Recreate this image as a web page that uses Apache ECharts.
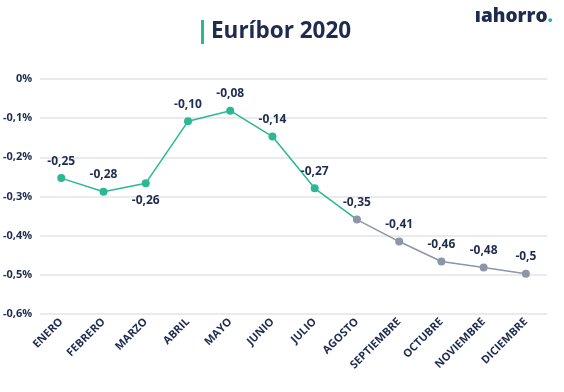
<!DOCTYPE html>
<html><head><meta charset="utf-8">
<script src="https://cdn.jsdelivr.net/npm/echarts@6/dist/echarts.min.js"></script>
<style>html,body{margin:0;padding:0;background:#fff}#c{width:564px;height:392px}</style>
</head><body><div id="c"></div>
<script>
var months = ['ENERO','FEBRERO','MARZO','ABRIL','MAYO','JUNIO','JULIO','AGOSTO','SEPTIEMBRE','OCTUBRE','NOVIEMBRE','DICIEMBRE'];
var values = [-0.253,-0.288,-0.266,-0.108,-0.081,-0.147,-0.279,-0.359,-0.415,-0.466,-0.481,-0.497];
var valueLabels = ['-0,25','-0,28','-0,26','-0,10','-0,08','-0,14','-0,27','-0,35','-0,41','-0,46','-0,48','-0,5'];
var labelBelow = [false,false,true,false,false,false,false,false,false,false,false,false];
var confirmedCount = 7; // Jan–Jul green points; Aug onward gray
var yTicks = {min:-0.6, max:0, interval:0.1};

var GREEN = '#2bb894', GRAY = '#8d95a8', NAVY = '#1e2c4f';
var FONT = 'Open Sans';

function labelFor(i){
  return {show:true, position: labelBelow[i] ? 'bottom' : 'top', distance: 7,
    formatter: valueLabels[i], color: NAVY, fontFamily: FONT, fontWeight: 700, fontSize: 12};
}
var greenData = [], grayData = [];
for (var i = 0; i < months.length; i++) {
  if (i <= confirmedCount) {
    if (i < confirmedCount) greenData.push({value: values[i], label: labelFor(i)});
    else greenData.push({value: values[i], symbol: 'none', label: {show:false}});
  } else greenData.push('-');
  if (i >= confirmedCount) grayData.push({value: values[i], label: labelFor(i)});
  else grayData.push('-');
}

var chart = echarts.init(document.getElementById('c'), null, {renderer:'canvas'});
chart.setOption({
  backgroundColor: '#fff',
  animation: false,
  title: [{
    text: '{bar|}{t|Euríbor 2020}',
    left: 196, top: 15,
    textStyle: {rich: {
      bar: {backgroundColor: GREEN, width: 3, height: 24},
      t: {color: NAVY, fontFamily: FONT, fontWeight: 700, fontSize: 22.5, padding:[0,0,0,7]}
    }}
  },{
    text: '{a|ıahorro}{d|.}',
    right: 6, top: 2,
    textStyle: {rich: {
      a: {color: NAVY, fontFamily: FONT, fontWeight: 800, fontSize: 19},
      d: {color: GREEN, fontFamily: FONT, fontWeight: 800, fontSize: 19}
    }}
  }],
  grid: {left: 37, right: 17, top: 79, bottom: 78},
  xAxis: {
    type: 'category', data: months, boundaryGap: true,
    axisLine: {show: false}, axisTick: {show: false},
    axisLabel: {rotate: 45, interval: 0, margin: 6, color: NAVY, fontFamily: FONT, fontWeight: 700, fontSize: 11}
  },
  yAxis: {
    type: 'value', min: yTicks.min, max: yTicks.max, interval: yTicks.interval,
    axisLine: {show:false}, axisTick: {show:false},
    splitLine: {lineStyle: {color: '#e3e3e3', width: 1.5}},
    axisLabel: {margin: 8, color: NAVY, fontFamily: FONT, fontWeight: 700, fontSize: 11,
      formatter: function(v){ var s = Math.abs(v) < 1e-9 ? '0' : v.toFixed(1).replace('.', ','); return s + '%'; }}
  },
  series: [{
    type: 'line', data: greenData, symbol: 'circle', symbolSize: 8,
    lineStyle: {color: GREEN, width: 1.5}, itemStyle: {color: GREEN}, z: 2
  },{
    type: 'line', data: grayData, symbol: 'circle', symbolSize: 8,
    lineStyle: {color: GRAY, width: 1.5}, itemStyle: {color: GRAY}, z: 3
  }]
});
</script></body></html>
